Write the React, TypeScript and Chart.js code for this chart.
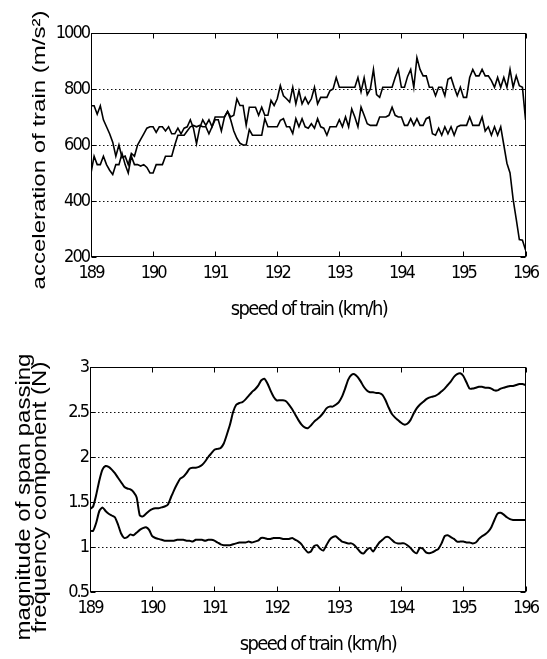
import React, { useEffect, useRef } from "react";
import { Chart, registerables } from "chart.js";

Chart.register(...registerables);

// ---------- data ----------
const SPEED_START = 189;
const SPEED_STEP = 0.05;

const speedTicks = [189, 190, 191, 192, 193, 194, 195, 196];
const accelTicks = [200, 400, 600, 800, 1000];
const spanTicks = [0.5, 1, 1.5, 2, 2.5, 3];

// acceleration of train (m/s^2), sampled every 0.05 km/h from 189 to 196
const accelA = [
  740, 740, 710, 740, 690, 665, 640, 610, 560, 600, 555, 560, 530, 570, 560, 600, 620, 640, 660, 665,
  665, 645, 665, 665, 650, 665, 640, 640, 660, 640, 660, 665, 690, 660, 605, 660, 690, 670, 690, 665,
  690, 690, 650, 700, 720, 690, 650, 624, 606, 600, 600, 655, 635, 635, 635, 635, 694, 665, 665, 665,
  665, 688, 694, 665, 665, 641, 694, 665, 694, 665, 660, 676, 660, 694, 665, 660, 635, 665, 665, 665,
  690, 665, 700, 665, 729, 700, 665, 735, 706, 676, 670, 670, 670, 700, 700, 700, 706, 735, 706, 700,
  700, 670, 670, 694, 670, 694, 670, 670, 694, 700, 640, 635, 660, 635, 665, 640, 665, 635, 665, 670,
  670, 670, 700, 670, 670, 670, 700, 650, 665, 635, 665, 635, 665, 600, 535, 500, 406, 335, 262, 260,
  225,
];

const accelB = [
  500, 560, 530, 530, 560, 530, 510, 495, 530, 530, 570, 530, 500, 560, 530, 530, 525, 530, 520, 500,
  500, 530, 530, 530, 560, 560, 560, 600, 635, 635, 635, 650, 665, 670, 665, 670, 665, 665, 640, 665,
  700, 700, 700, 700, 720, 700, 706, 765, 741, 741, 670, 735, 735, 735, 706, 735, 706, 706, 759, 741,
  765, 812, 776, 765, 753, 806, 747, 794, 747, 770, 747, 765, 806, 747, 770, 770, 770, 794, 800, 841,
  806, 806, 806, 806, 806, 806, 841, 790, 840, 780, 800, 870, 780, 770, 806, 806, 806, 806, 841, 870,
  806, 806, 845, 870, 806, 912, 870, 847, 847, 806, 806, 776, 806, 806, 776, 835, 841, 806, 776, 806,
  770, 770, 841, 870, 847, 847, 870, 847, 847, 830, 806, 841, 806, 841, 806, 870, 806, 847, 812, 806,
  690,
];

// magnitude of span passing frequency component (N)
const spanUpper = [
  1.42, 1.45, 1.58, 1.74, 1.86, 1.90, 1.89, 1.86, 1.82, 1.77, 1.72, 1.67, 1.65, 1.64, 1.61, 1.55, 1.35, 1.34, 1.37, 1.40,
  1.42, 1.43, 1.43, 1.44, 1.45, 1.47, 1.55, 1.63, 1.70, 1.76, 1.78, 1.82, 1.87, 1.88, 1.88, 1.89, 1.91, 1.95, 2.00, 2.04,
  2.08, 2.09, 2.10, 2.15, 2.25, 2.36, 2.50, 2.58, 2.60, 2.61, 2.64, 2.68, 2.72, 2.75, 2.79, 2.85, 2.87, 2.82, 2.74, 2.67,
  2.63, 2.63, 2.63, 2.62, 2.58, 2.53, 2.47, 2.41, 2.36, 2.33, 2.32, 2.35, 2.39, 2.42, 2.45, 2.49, 2.54, 2.56, 2.56, 2.58,
  2.61, 2.67, 2.76, 2.86, 2.91, 2.92, 2.89, 2.84, 2.78, 2.74, 2.72, 2.72, 2.71, 2.71, 2.69, 2.63, 2.55, 2.48, 2.44, 2.41,
  2.38, 2.36, 2.37, 2.41, 2.48, 2.54, 2.58, 2.61, 2.64, 2.66, 2.67, 2.68, 2.70, 2.73, 2.76, 2.80, 2.84, 2.89, 2.92, 2.93,
  2.90, 2.83, 2.76, 2.76, 2.77, 2.78, 2.78, 2.77, 2.77, 2.76, 2.74, 2.74, 2.76, 2.77, 2.78, 2.79, 2.79, 2.80, 2.81, 2.81,
  2.80,
];

const spanLower = [
  1.18, 1.18, 1.27, 1.40, 1.44, 1.40, 1.37, 1.35, 1.33, 1.25, 1.15, 1.10, 1.11, 1.14, 1.13, 1.16, 1.19, 1.21, 1.22, 1.19,
  1.12, 1.10, 1.09, 1.08, 1.07, 1.07, 1.07, 1.07, 1.08, 1.08, 1.08, 1.07, 1.07, 1.06, 1.08, 1.08, 1.08, 1.07, 1.08, 1.08,
  1.07, 1.05, 1.03, 1.02, 1.02, 1.02, 1.03, 1.04, 1.05, 1.05, 1.05, 1.06, 1.05, 1.06, 1.07, 1.10, 1.10, 1.09, 1.09, 1.10,
  1.10, 1.10, 1.09, 1.09, 1.09, 1.10, 1.08, 1.06, 1.03, 0.98, 0.94, 0.95, 1.01, 1.02, 0.98, 0.96, 1.02, 1.08, 1.11, 1.12,
  1.09, 1.06, 1.05, 1.04, 1.04, 1.02, 0.98, 0.94, 0.93, 0.97, 0.99, 0.95, 1.00, 1.05, 1.08, 1.11, 1.11, 1.08, 1.05, 1.04,
  1.04, 1.04, 1.02, 0.99, 0.95, 0.93, 0.99, 0.98, 0.94, 0.93, 0.94, 0.96, 0.98, 1.04, 1.12, 1.13, 1.11, 1.09, 1.06, 1.06,
  1.06, 1.05, 1.05, 1.04, 1.05, 1.09, 1.12, 1.14, 1.17, 1.22, 1.30, 1.37, 1.38, 1.36, 1.33, 1.31, 1.30, 1.30, 1.30, 1.30,
  1.30,
];

// ---------- styling ----------
const FONT_NARROW =
  "'Liberation Sans Narrow', 'DejaVu Sans Condensed', 'Liberation Sans', Arial, sans-serif";
const FONT_SANS = "'Liberation Sans', Arial, Helvetica, sans-serif";
const W = 547;

const toPoints = (vals: number[]) =>
  vals.map((y, i) => ({ x: +(SPEED_START + i * SPEED_STEP).toFixed(2), y }));

const framePlugin = {
  id: "frameTitles",
  beforeDraw(chart: any) {
    const ctx = chart.ctx;
    ctx.save();
    ctx.fillStyle = "#fff";
    ctx.fillRect(0, 0, chart.width, chart.height);
    ctx.restore();
    ctx.letterSpacing = "-2px";
  },
  afterDraw(chart: any, _args: any, o: any) {
    const ctx = chart.ctx;
    const { left, right, top, bottom } = chart.chartArea;
    const L = Math.round(left) + 0.5;
    const R = Math.round(right) - 0.5;
    const T = Math.round(top) + 0.5;
    const B = Math.round(bottom) - 0.5;
    ctx.save();
    ctx.letterSpacing = "0px";
    ctx.setLineDash([]);
    ctx.strokeStyle = "#000";
    ctx.lineWidth = 1;
    ctx.strokeRect(L, T, R - L, B - T);
    const xs = chart.scales.x;
    const ys = chart.scales.y;
    ctx.beginPath();
    xs.ticks.forEach((t: any) => {
      const px = Math.round(xs.getPixelForValue(t.value)) + 0.5;
      ctx.moveTo(px, B);
      ctx.lineTo(px, B - 5);
      ctx.moveTo(px, T);
      ctx.lineTo(px, T + 5);
    });
    ys.ticks.forEach((t: any) => {
      const py = Math.round(ys.getPixelForValue(t.value)) + 0.5;
      ctx.moveTo(L, py);
      ctx.lineTo(L + 5, py);
      ctx.moveTo(R, py);
      ctx.lineTo(R - 5, py);
    });
    ctx.stroke();

    ctx.fillStyle = "#000";
    ctx.textAlign = "center";
    ctx.textBaseline = "middle";
    ctx.font = o.xFont;
    ctx.letterSpacing = o.xSpacing;
    ctx.fillText(o.xText, o.xX, o.xY);
    ctx.letterSpacing = "0px";
    ctx.font = o.yFont;
    o.yLines.forEach((line: string, i: number) => {
      ctx.save();
      ctx.translate(o.yX[i], o.yY);
      ctx.rotate(-Math.PI / 2);
      ctx.scale(1, o.yScale);
      ctx.fillText(line, 0, 0);
      ctx.restore();
    });
    ctx.restore();
  },
};

function buildConfig(p: any) {
  const tickFont = { family: FONT_NARROW, size: 18 };
  return {
    type: "line",
    data: {
      datasets: p.series.map((s: number[]) => ({
        data: toPoints(s),
        borderColor: "#000",
        borderWidth: p.lineWidth,
        pointRadius: 0,
        tension: p.tension,
        fill: false,
      })),
    },
    options: {
      responsive: false,
      animation: false,
      devicePixelRatio: 1,
      layout: { padding: { left: 0, right: p.padRight, top: p.padTop, bottom: 0 } },
      plugins: {
        legend: { display: false },
        tooltip: { enabled: false },
        frameTitles: p.titles,
      },
      scales: {
        x: {
          type: "linear",
          min: speedTicks[0],
          max: speedTicks[speedTicks.length - 1],
          afterBuildTicks: (s: any) => {
            s.ticks = speedTicks.map((v) => ({ value: v }));
          },
          afterFit: (s: any) => {
            s.height = p.xAxisHeight;
          },
          ticks: {
            font: tickFont,
            color: "#000",
            padding: p.xTickPad,
            maxRotation: 0,
            autoSkip: false,
            callback: (v: any) => String(v),
          },
          grid: { display: false, drawTicks: false },
          border: { display: false },
        },
        y: {
          type: "linear",
          min: p.yTicks[0],
          max: p.yTicks[p.yTicks.length - 1],
          afterBuildTicks: (s: any) => {
            s.ticks = p.yTicks.map((v: number) => ({ value: v }));
          },
          afterFit: (s: any) => {
            s.width = p.yAxisWidth;
          },
          ticks: {
            font: tickFont,
            color: "#000",
            padding: 2,
            callback: (v: any) => String(v),
          },
          grid: {
            drawTicks: false,
            lineWidth: 1,
            color: (c: any) =>
              c.tick &&
              (c.tick.value === p.yTicks[0] || c.tick.value === p.yTicks[p.yTicks.length - 1])
                ? "rgba(0,0,0,0)"
                : "#111",
          },
          border: { display: false, dash: [1.5, 2.5] },
        },
      },
    },
    plugins: [framePlugin],
  };
}

function PlotCanvas({ config, top, height }: { config: any; top: number; height: number }) {
  const ref = useRef<HTMLCanvasElement>(null);
  useEffect(() => {
    const chart = new Chart(ref.current as HTMLCanvasElement, config);
    return () => chart.destroy();
  }, []);
  return (
    <canvas
      ref={ref}
      width={W}
      height={height}
      style={{ position: "absolute", left: 0, top, width: W, height, display: "block" }}
    />
  );
}

export default function App() {
  const topConfig = buildConfig({
    series: [accelA, accelB],
    yTicks: accelTicks,
    padTop: 33,
    padRight: 16,
    yAxisWidth: 91,
    xAxisHeight: 63,
    xTickPad: 6,
    lineWidth: 1.6,
    tension: 0,
    titles: {
      xText: "speed of train (km/h)",
      xFont: `20px ${FONT_NARROW}`,
      xSpacing: "-1.6px",
      xX: 309,
      xY: 310,
      yLines: ["acceleration of train (m/s²)"],
      yFont: `24px ${FONT_SANS}`,
      yX: [40],
      yY: 150,
      yScale: 0.8,
    },
  });

  const bottomConfig = buildConfig({
    series: [spanUpper, spanLower],
    yTicks: spanTicks,
    padTop: 47,
    padRight: 16,
    yAxisWidth: 90,
    xAxisHeight: 67,
    xTickPad: 6,
    lineWidth: 2,
    tension: 0.2,
    titles: {
      xText: "speed of train (km/h)",
      xFont: `20px ${FONT_NARROW}`,
      xSpacing: "-1.6px",
      xX: 318,
      xY: 325,
      yLines: ["magnitude of span passing", "frequency component (N)"],
      yFont: `24px ${FONT_SANS}`,
      yX: [24, 40],
      yY: 177,
      yScale: 0.85,
    },
  });

  return (
    <div style={{ position: "absolute", left: 0, top: 0, width: W, height: 659, background: "#fff" }}>
      <PlotCanvas config={topConfig} top={0} height={320} />
      <PlotCanvas config={bottomConfig} top={320} height={339} />
    </div>
  );
}
